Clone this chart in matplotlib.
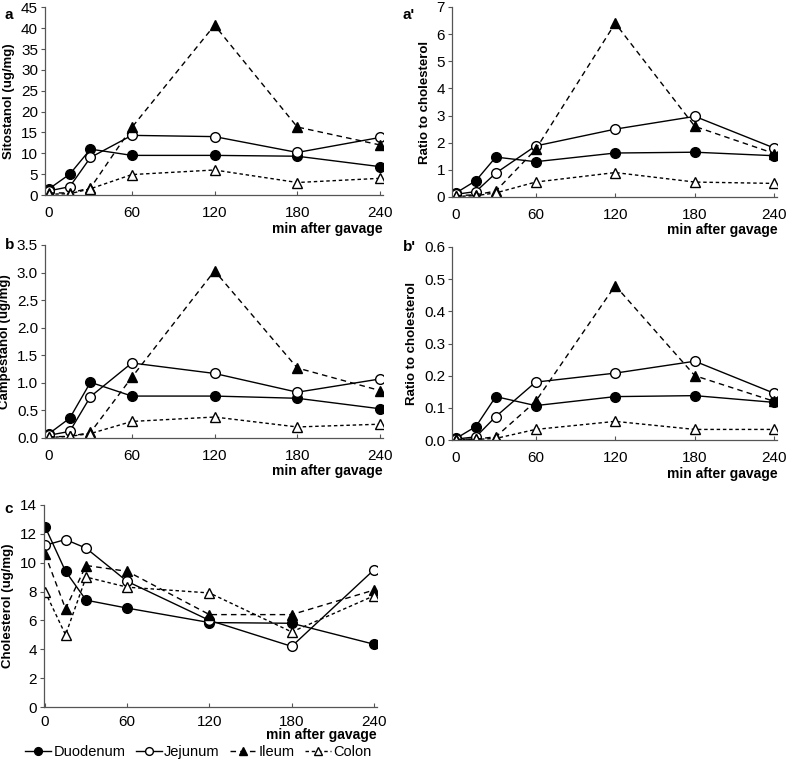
import matplotlib
matplotlib.use("Agg")
import matplotlib.pyplot as plt

plt.rcParams['font.family'] = ['Liberation Sans', 'DejaVu Sans']

minutes = [0, 15, 30, 60, 120, 180, 240]
sections = ["Duodenum", "Jejunum", "Ileum", "Colon"]

# panel a: sitostanol (ug/mg)
sito = {
    "Duodenum": [1.5, 5.0, 11.0, 9.5, 9.5, 9.3, 6.8],
    "Jejunum": [1.0, 2.0, 9.0, 14.3, 14.0, 10.2, 13.8],
    "Ileum": [0.5, 0.5, 1.7, 16.2, 40.7, 16.3, 12.0],
    "Colon": [0.2, 0.3, 1.5, 4.9, 6.0, 3.0, 4.0],
}
# panel a': sitostanol ratio to cholesterol
sito_ratio = {
    "Duodenum": [0.15, 0.6, 1.47, 1.3, 1.62, 1.65, 1.52],
    "Jejunum": [0.1, 0.2, 0.88, 1.88, 2.5, 2.97, 1.8],
    "Ileum": [0.05, 0.08, 0.22, 1.75, 6.4, 2.6, 1.6],
    "Colon": [0.02, 0.05, 0.15, 0.55, 0.9, 0.55, 0.5],
}
# panel b: campestanol (ug/mg)
campe = {
    "Duodenum": [0.08, 0.36, 1.01, 0.76, 0.76, 0.72, 0.53],
    "Jejunum": [0.05, 0.12, 0.75, 1.36, 1.17, 0.83, 1.07],
    "Ileum": [0.02, 0.03, 0.1, 1.1, 3.03, 1.27, 0.86],
    "Colon": [0.01, 0.03, 0.08, 0.3, 0.38, 0.2, 0.25],
}
# panel b': campestanol ratio to cholesterol
campe_ratio = {
    "Duodenum": [0.005, 0.042, 0.135, 0.107, 0.135, 0.138, 0.117],
    "Jejunum": [0.003, 0.01, 0.073, 0.18, 0.208, 0.245, 0.145],
    "Ileum": [0.002, 0.003, 0.01, 0.12, 0.48, 0.2, 0.12],
    "Colon": [0.001, 0.002, 0.005, 0.033, 0.058, 0.033, 0.033],
}
# panel c: cholesterol (ug/mg)
chol = {
    "Duodenum": [12.5, 9.4, 7.4, 6.85, 5.85, 5.8, 4.35],
    "Jejunum": [11.2, 11.6, 11.0, 8.7, 6.0, 4.2, 9.5],
    "Ileum": [10.6, 6.8, 9.8, 9.4, 6.4, 6.4, 8.1],
    "Colon": [8.0, 5.0, 9.0, 8.3, 7.9, 5.2, 7.7],
}

styles = {
    "Duodenum": dict(ls="-", marker="o", mfc="black"),
    "Jejunum": dict(ls="-", marker="o", mfc="white"),
    "Ileum": dict(ls=(0, (4, 3)), marker="^", mfc="black"),
    "Colon": dict(ls=(0, (2.5, 2)), marker="^", mfc="white"),
}

fig = plt.figure(figsize=(7.93, 7.6), dpi=100)

def panel(rect, data, ylabel, ymax, ystep, fmt, tag, tagpos, xmin=-3,
          xpad=8, lpad=1):
    ax = fig.add_axes(rect)
    for s in sections:
        st = styles[s]
        ax.plot(minutes, data[s], color="black", lw=1, ls=st["ls"],
                marker=st["marker"], mfc=st["mfc"], mec="black",
                ms=7, mew=1, label=s)
    ax.set_xlim(xmin, 242)
    ax.set_ylim(0, ymax)
    ax.set_xticks([0, 60, 120, 180, 240])
    yt = [i * ystep for i in range(int(round(ymax / ystep)) + 1)]
    ax.set_yticks(yt)
    ax.set_yticklabels([fmt.format(v) for v in yt])
    for sp in ["top", "right"]:
        ax.spines[sp].set_visible(False)
    for sp in ["left", "bottom"]:
        ax.spines[sp].set_color("#555555")
        ax.spines[sp].set_linewidth(0.9)
    ax.tick_params(axis="y", direction="out", length=3, color="#555555",
                   labelsize=11, pad=2)
    ax.tick_params(axis="x", direction="in", length=3, color="#555555",
                   labelsize=11, pad=xpad)
    ax.set_ylabel(ylabel, fontsize=9.5, fontweight="bold", labelpad=4)
    ax.set_xlabel("min after gavage", fontsize=10, fontweight="bold",
                  loc="right", labelpad=lpad)
    fig.text(tagpos[0], tagpos[1], tag, fontsize=11, fontweight="bold",
             ha="left", va="top")
    return ax

panel([0.0567, 0.7434, 0.426, 0.247], sito, "Sitostanol (ug/mg)", 45, 5,
      "{:.0f}", "a", (0.006, 0.99))
panel([0.570, 0.7408, 0.41, 0.25], sito_ratio, "Ratio to cholesterol", 7, 1,
      "{:.0f}", "a'", (0.508, 0.99))
panel([0.0567, 0.4237, 0.426, 0.254], campe, "Campestanol (ug/mg)", 3.5, 0.5,
      "{:.1f}", "b", (0.006, 0.687))
panel([0.570, 0.421, 0.41, 0.254], campe_ratio, "Ratio to cholesterol", 0.6, 0.1,
      "{:.1f}", "b'", (0.508, 0.684))
axc = panel([0.055, 0.0697, 0.42, 0.266], chol, "Cholesterol (ug/mg)", 14, 2,
            "{:.0f}", "c", (0.006, 0.34), xmin=-1, xpad=6, lpad=-1)

handles, labels = axc.get_legend_handles_labels()
fig.legend(handles, labels, loc="center", bbox_to_anchor=(0.25, 0.01),
           ncol=4, frameon=False, fontsize=10.5, handlelength=1.8,
           handletextpad=0.15, columnspacing=0.7, markerscale=0.8,
           borderpad=0)

fig.savefig("out.png", dpi=100)
